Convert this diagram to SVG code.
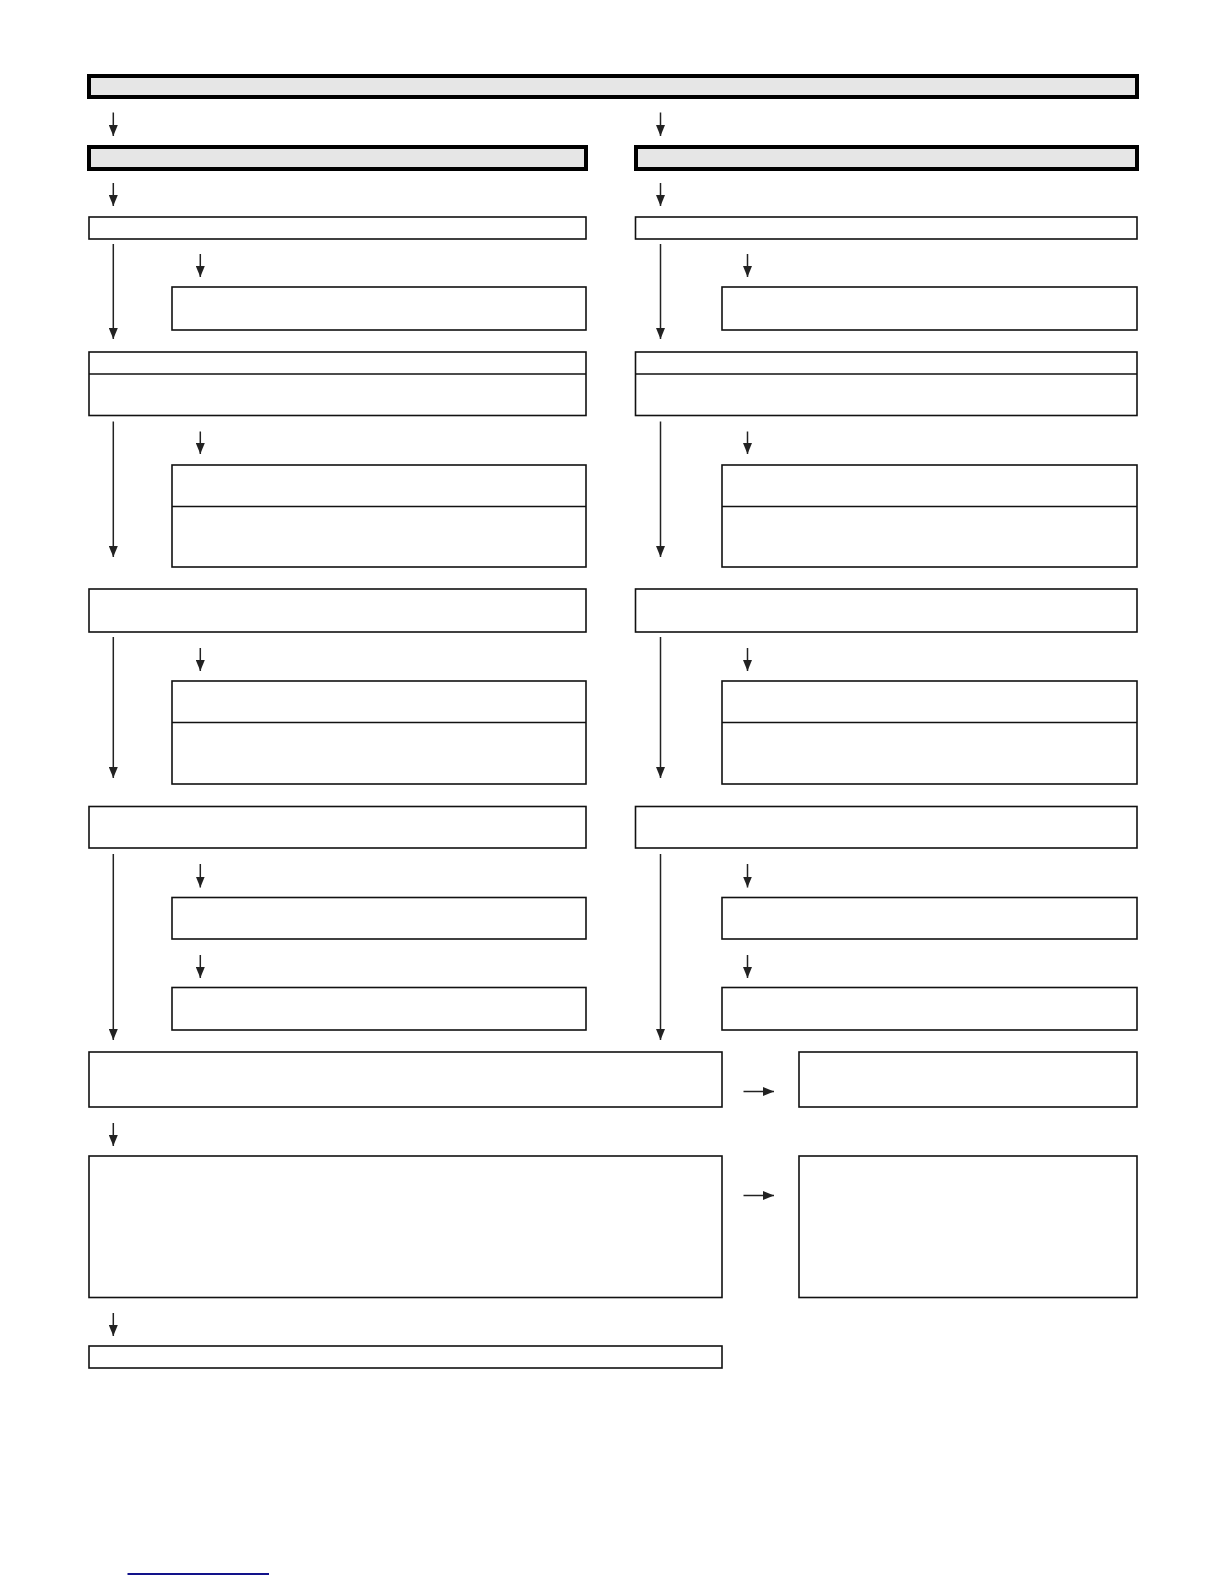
<svg xmlns="http://www.w3.org/2000/svg" width="1224" height="1584" viewBox="0 0 1224 1584">
  <defs>
    <style>
      .hdr { fill: #e6e6e6; stroke: #000; stroke-width: 4; }
      .box { fill: #fff; stroke: #111; stroke-width: 1.6; }
      .div { stroke: #111; stroke-width: 1.6; fill: none; }
      .arr { stroke: #222; stroke-width: 1.5; fill: none; marker-end: url(#ah); }
    </style>
    <marker id="ah" markerUnits="userSpaceOnUse" markerWidth="11" markerHeight="9" refX="11" refY="4.5" orient="auto" viewBox="0 0 11 9">
      <path d="M0,0 L11,4.5 L0,9 z" fill="#222"/>
    </marker>
  </defs>
  <rect width="1224" height="1584" fill="#fff"/>

  <g id="top-header"><rect class="hdr" x="89" y="76" width="1048" height="21"/></g>

  <g id="left-header"><rect class="hdr" x="89" y="147" width="497" height="22"/></g>
  <g id="right-header"><rect class="hdr" x="636" y="147" width="501" height="22"/></g>

  <!-- left column -->
  <g id="L-A"><rect class="box" x="89" y="217" width="497" height="22"/></g>
  <g id="L-B"><rect class="box" x="172" y="287" width="414" height="43"/></g>
  <g id="L-C"><rect class="box" x="89" y="352" width="497" height="63.5"/><line class="div" x1="89" y1="374" x2="586" y2="374"/></g>
  <g id="L-D"><rect class="box" x="172" y="465" width="414" height="102"/><line class="div" x1="172" y1="506.5" x2="586" y2="506.5"/></g>
  <g id="L-E"><rect class="box" x="89" y="589" width="497" height="43"/></g>
  <g id="L-F"><rect class="box" x="172" y="681" width="414" height="103"/><line class="div" x1="172" y1="722.5" x2="586" y2="722.5"/></g>
  <g id="L-G"><rect class="box" x="89" y="806.5" width="497" height="41.5"/></g>
  <g id="L-H"><rect class="box" x="172" y="897.5" width="414" height="41.5"/></g>
  <g id="L-I"><rect class="box" x="172" y="987.5" width="414" height="42.5"/></g>

  <!-- right column -->
  <g id="R-A"><rect class="box" x="635.5" y="217" width="501.5" height="22"/></g>
  <g id="R-B"><rect class="box" x="722" y="287" width="415" height="43"/></g>
  <g id="R-C"><rect class="box" x="635.5" y="352" width="501.5" height="63.5"/><line class="div" x1="635.5" y1="374" x2="1137" y2="374"/></g>
  <g id="R-D"><rect class="box" x="722" y="465" width="415" height="102"/><line class="div" x1="722" y1="506.5" x2="1137" y2="506.5"/></g>
  <g id="R-E"><rect class="box" x="635.5" y="589" width="501.5" height="43"/></g>
  <g id="R-F"><rect class="box" x="722" y="681" width="415" height="103"/><line class="div" x1="722" y1="722.5" x2="1137" y2="722.5"/></g>
  <g id="R-G"><rect class="box" x="635.5" y="806.5" width="501.5" height="41.5"/></g>
  <g id="R-H"><rect class="box" x="722" y="897.5" width="415" height="41.5"/></g>
  <g id="R-I"><rect class="box" x="722" y="987.5" width="415" height="42.5"/></g>

  <!-- bottom -->
  <g id="J"><rect class="box" x="89" y="1052" width="633" height="55"/></g>
  <g id="K"><rect class="box" x="799" y="1052" width="338" height="55"/></g>
  <g id="L"><rect class="box" x="89" y="1156" width="633" height="141.5"/></g>
  <g id="M"><rect class="box" x="799" y="1156" width="338" height="141.5"/></g>
  <g id="N"><rect class="box" x="89" y="1346" width="633" height="22"/></g>

  <g id="connectors">
    <line class="arr" x1="113.3" y1="112.5" x2="113.3" y2="136"/>
    <line class="arr" x1="660.5" y1="112.5" x2="660.5" y2="136"/>
    <line class="arr" x1="113.3" y1="183" x2="113.3" y2="206"/>
    <line class="arr" x1="660.5" y1="183" x2="660.5" y2="206"/>

    <line class="arr" x1="113.3" y1="244" x2="113.3" y2="339"/>
    <line class="arr" x1="200.3" y1="254" x2="200.3" y2="277"/>
    <line class="arr" x1="660.5" y1="244" x2="660.5" y2="339"/>
    <line class="arr" x1="747.5" y1="254" x2="747.5" y2="277"/>

    <line class="arr" x1="113.3" y1="421.5" x2="113.3" y2="557"/>
    <line class="arr" x1="200.3" y1="431.5" x2="200.3" y2="454"/>
    <line class="arr" x1="660.5" y1="421.5" x2="660.5" y2="557"/>
    <line class="arr" x1="747.5" y1="431.5" x2="747.5" y2="454"/>

    <line class="arr" x1="113.3" y1="637" x2="113.3" y2="778"/>
    <line class="arr" x1="200.3" y1="648" x2="200.3" y2="671"/>
    <line class="arr" x1="660.5" y1="637" x2="660.5" y2="778"/>
    <line class="arr" x1="747.5" y1="648" x2="747.5" y2="671"/>

    <line class="arr" x1="113.3" y1="854" x2="113.3" y2="1040"/>
    <line class="arr" x1="200.3" y1="864" x2="200.3" y2="887.5"/>
    <line class="arr" x1="200.3" y1="955" x2="200.3" y2="978"/>
    <line class="arr" x1="660.5" y1="854" x2="660.5" y2="1040"/>
    <line class="arr" x1="747.5" y1="864" x2="747.5" y2="887.5"/>
    <line class="arr" x1="747.5" y1="955" x2="747.5" y2="978"/>

    <line class="arr" x1="743.5" y1="1091.5" x2="774" y2="1091.5"/>
    <line class="arr" x1="113.3" y1="1123" x2="113.3" y2="1146"/>
    <line class="arr" x1="743.5" y1="1195.5" x2="774" y2="1195.5"/>
    <line class="arr" x1="113.3" y1="1313" x2="113.3" y2="1336"/>
  </g>

  <line x1="127.5" y1="1574" x2="269" y2="1574" stroke="#12128a" stroke-width="1.8"/>
</svg>
